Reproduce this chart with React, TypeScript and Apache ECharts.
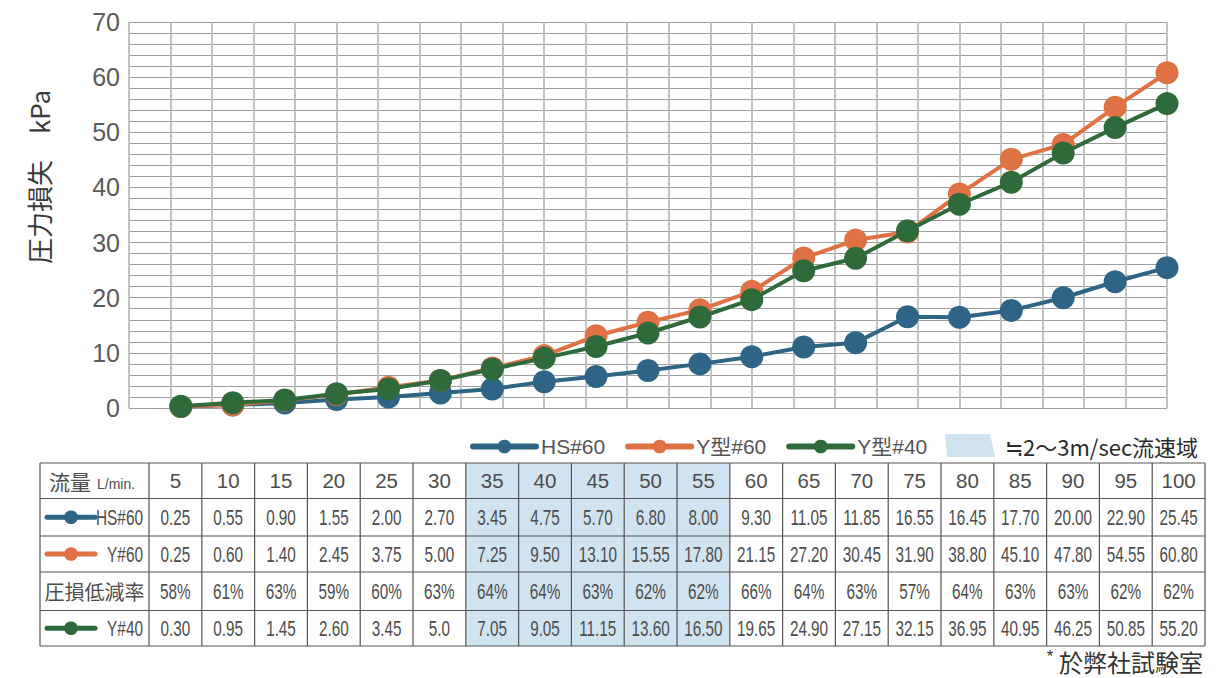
import React, { useEffect, useRef } from "react";
import * as echarts from "echarts";

// Flow rates (L/min) and measured pressure losses (kPa)
const flows = [5, 10, 15, 20, 25, 30, 35, 40, 45, 50, 55, 60, 65, 70, 75, 80, 85, 90, 95, 100];
const hs60Text = ["0.25", "0.55", "0.90", "1.55", "2.00", "2.70", "3.45", "4.75", "5.70", "6.80", "8.00", "9.30", "11.05", "11.85", "16.55", "16.45", "17.70", "20.00", "22.90", "25.45"];
const y60Text = ["0.25", "0.60", "1.40", "2.45", "3.75", "5.00", "7.25", "9.50", "13.10", "15.55", "17.80", "21.15", "27.20", "30.45", "31.90", "38.80", "45.10", "47.80", "54.55", "60.80"];
const reductionRates = [58, 61, 63, 59, 60, 63, 64, 64, 63, 62, 62, 66, 64, 63, 57, 64, 63, 63, 62, 62];
const y40Text = ["0.30", "0.95", "1.45", "2.60", "3.45", "5.0", "7.05", "9.05", "11.15", "13.60", "16.50", "19.65", "24.90", "27.15", "32.15", "36.95", "40.95", "46.25", "50.85", "55.20"];
// Flow rates inside the ≒2〜3m/sec velocity range
const highlightFlows = [35, 40, 45, 50, 55];

const seriesNames = ["HS#60", "Y型#60", "Y型#40"];
const rowLabels = ["HS#60", "Y#60", "圧損低減率", "Y#40"];
const colors = { hs: "#2e6485", y60: "#e07144", y40: "#2f6a3b" };

const LATIN = "'Liberation Sans', Arial, 'Noto Sans CJK JP', sans-serif";
const CJK = "'Noto Sans CJK JP', sans-serif";

function buildTable(): any[] {
  const els: any[] = [];
  const left = 40;
  const firstW = 109;
  const colW = 52.8;
  const rowsY = [463, 498.5, 536, 572, 610.5, 646];
  const top = rowsY[0];
  const bottom = rowsY[rowsY.length - 1];
  const right = left + firstW + colW * flows.length;
  const colX = (i: number) => left + firstW + i * colW;
  const textFill = "#4d4d4d";

  // shaded velocity range columns
  flows.forEach((f, i) => {
    if (highlightFlows.includes(f)) {
      els.push({
        type: "rect",
        shape: { x: colX(i), y: top, width: colW, height: bottom - top },
        style: { fill: "#cfe3f1" },
        z: 1,
      });
    }
  });

  // grid lines
  const lineStyle = { stroke: "#555", lineWidth: 1.2 };
  rowsY.forEach((y) => {
    els.push({ type: "line", shape: { x1: left, y1: y, x2: right, y2: y }, style: lineStyle, z: 2 });
  });
  const vx = [left, ...flows.map((_, i) => colX(i)), right];
  vx.forEach((x) => {
    els.push({ type: "line", shape: { x1: x, y1: top, x2: x, y2: bottom }, style: lineStyle, z: 2 });
  });

  const cy = (r: number) => (rowsY[r] + rowsY[r + 1]) / 2;
  const cellText = (text: string, x: number, y: number, narrow: boolean) => ({
    type: "text",
    x,
    y,
    scaleX: narrow ? 0.68 : 1,
    z: 3,
    style: {
      text,
      fontSize: narrow ? 22.5 : 20.5,
      fontFamily: LATIN,
      fill: textFill,
      align: "center",
      verticalAlign: "middle",
    },
  });

  // header row
  els.push({
    type: "text", x: 49, y: cy(0), z: 3,
    style: { text: "流量", fontSize: 21, fontFamily: CJK, fill: textFill, align: "left", verticalAlign: "middle" },
  });
  els.push({
    type: "text", x: 97, y: cy(0) + 3, z: 3,
    style: { text: "L/min.", fontSize: 14, fontFamily: LATIN, fill: textFill, align: "left", verticalAlign: "middle" },
  });
  flows.forEach((f, i) => els.push(cellText(String(f), colX(i) + colW / 2, cy(0), false)));

  // row label icons
  const iconRows: [number, string][] = [[1, colors.hs], [2, colors.y60], [4, colors.y40]];
  iconRows.forEach(([r, c]) => {
    els.push({
      type: "line", z: 3,
      shape: { x1: 47, y1: cy(r), x2: 95, y2: cy(r) },
      style: { stroke: c, lineWidth: 5, lineCap: "round" },
    });
    els.push({ type: "circle", z: 3, shape: { cx: 71, cy: cy(r), r: 6.8 }, style: { fill: c } });
  });
  [1, 2, 4].forEach((r, k) => {
    const label = [rowLabels[0], rowLabels[1], rowLabels[3]][k];
    els.push({
      type: "text", x: 143, y: cy(r), scaleX: 0.7, z: 3,
      style: { text: label, fontSize: 22, fontFamily: LATIN, fill: textFill, align: "right", verticalAlign: "middle" },
    });
  });
  els.push({
    type: "text", x: left + firstW / 2, y: cy(3), z: 3,
    style: { text: rowLabels[2], fontSize: 20, fontFamily: CJK, fill: textFill, align: "center", verticalAlign: "middle" },
  });

  // value rows
  const rows: string[][] = [hs60Text, y60Text, reductionRates.map((v) => v + "%"), y40Text];
  rows.forEach((vals, r) => {
    vals.forEach((v, i) => els.push(cellText(v, colX(i) + colW / 2, cy(r + 1), true)));
  });

  return els;
}

export default function App() {
  const ref = useRef<HTMLDivElement>(null);

  useEffect(() => {
    document.body.style.margin = "0";
    const chart = echarts.init(ref.current!, undefined, { renderer: "svg" });

    const toPairs = (vals: string[]) => vals.map((v, i) => [flows[i], Number(v)]);
    const mkSeries = (name: string, color: string, vals: string[], z: number) => ({
      name,
      type: "line",
      data: toPairs(vals),
      symbol: "circle",
      symbolSize: 23,
      z,
      itemStyle: { color },
      lineStyle: { color, width: 4 },
    });

    chart.setOption({
      animation: false,
      backgroundColor: "#ffffff",
      grid: { left: 129, top: 22, width: 1038, height: 386 },
      legend: {
        data: seriesNames,
        left: 465,
        top: 431,
        itemWidth: 63,
        itemHeight: 17,
        itemGap: 20,
        lineStyle: { width: 6, cap: "round" },
        textStyle: { fontSize: 21, fontFamily: LATIN, color: "#555" },
      },
      xAxis: {
        type: "value",
        min: 0,
        max: 100,
        interval: 4,
        axisLine: { show: false },
        axisTick: { show: false },
        axisLabel: { show: false },
        splitLine: { show: true, lineStyle: { color: "#bdbdbd", width: 1.8 } },
      },
      yAxis: {
        type: "value",
        min: 0,
        max: 70,
        interval: 2,
        axisLine: { show: false },
        axisTick: { show: false },
        axisLabel: {
          margin: 9,
          fontSize: 25,
          fontFamily: LATIN,
          color: "#5a5a5a",
          formatter: (v: number) => (v % 10 === 0 ? String(v) : ""),
        },
        splitLine: { show: true, lineStyle: { color: "#9e9e9e", width: 1.2 } },
      },
      series: [
        mkSeries(seriesNames[0], colors.hs, hs60Text, 2),
        mkSeries(seriesNames[1], colors.y60, y60Text, 3),
        mkSeries(seriesNames[2], colors.y40, y40Text, 4),
      ],
      graphic: [
        {
          type: "text",
          x: 38,
          y: 177,
          rotation: Math.PI / 2,
          style: {
            text: "圧力損失\u3000kPa",
            fontSize: 26,
            fontFamily: CJK,
            fill: "#3a3a3a",
            align: "center",
            verticalAlign: "middle",
          },
        },
        {
          type: "polygon",
          shape: { points: [[945, 434], [990, 434], [995, 457], [947, 457]] },
          style: { fill: "#cfe3f1" },
        },
        {
          type: "text",
          x: 1005,
          y: 446,
          style: {
            text: "≒2〜3m/sec流速域",
            fontSize: 22,
            fontFamily: CJK,
            fill: "#2a2a2a",
            align: "left",
            verticalAlign: "middle",
          },
        },
        {
          type: "text",
          x: 1050,
          y: 656,
          style: { text: "*", fontSize: 17, lineHeight: 17, fontFamily: LATIN, fill: "#333", align: "center", verticalAlign: "middle" },
        },
        {
          type: "text",
          x: 1203,
          y: 661,
          style: {
            text: "於弊社試験室",
            fontSize: 24,
            lineHeight: 25,
            fontFamily: CJK,
            fill: "#333",
            align: "right",
            verticalAlign: "middle",
          },
        },
        ...buildTable(),
      ],
    });

    return () => chart.dispose();
  }, []);

  return <div ref={ref} style={{ width: 1232, height: 678 }} />;
}
